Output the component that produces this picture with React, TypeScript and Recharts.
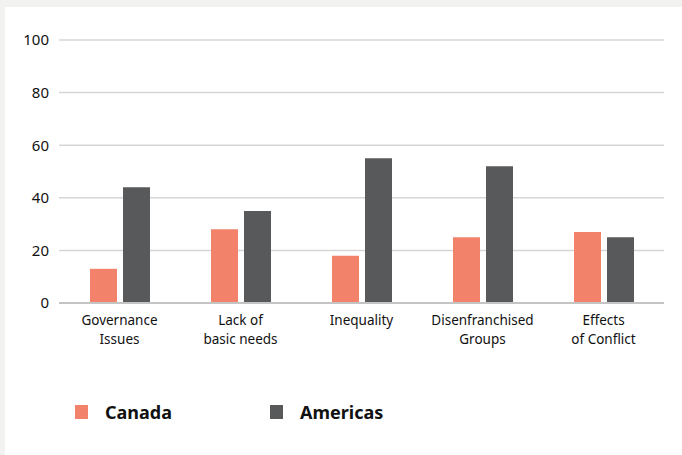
import React from 'react';
import { BarChart, Bar, XAxis, YAxis, CartesianGrid, Legend } from 'recharts';

const categories = ['Governance\nIssues', 'Lack of\nbasic needs', 'Inequality', 'Disenfranchised\nGroups', 'Effects\nof Conflict'];
const canada = [13, 28, 18, 25, 27];
const americas = [44, 35, 55, 52, 25];
const yTicks = [0, 20, 40, 60, 80, 100];
const seriesNames = ['Canada', 'Americas'];
const seriesColors = ['#f3826a', '#58595b'];

const data = categories.map((c, i) => ({ name: c, Canada: canada[i], Americas: americas[i] }));

const FONT = '"Noto Sans", sans-serif';

const XTick = (props: any) => {
  const { x, y, payload } = props;
  const lines = String(payload.value).split('\n');
  return (
    <text x={x} y={y} textAnchor="middle" fontFamily={FONT} fontSize={13.5} fill="#111">
      {lines.map((l: string, i: number) => (
        <tspan key={i} x={x} dy={i === 0 ? 14 : 19}>{l}</tspan>
      ))}
    </text>
  );
};

const LegendContent = () => (
  <div style={{ position: 'relative', height: 30, fontFamily: FONT }}>
    {seriesNames.map((n, i) => (
      <div key={n} style={{ position: 'absolute', left: 70 + i * 195, top: 5, display: 'flex', alignItems: 'center' }}>
        <div style={{ width: 13, height: 14, background: seriesColors[i] }} />
        <span style={{ marginLeft: 17, fontSize: 18, fontWeight: 700, color: '#111' }}>{n}</span>
      </div>
    ))}
  </div>
);

export default function App() {
  return (
    <div style={{ position: 'fixed', left: 0, top: 0, width: 682, height: 455, background: '#f2f2f1' }}>
      <div style={{ position: 'absolute', left: 5, top: 7, width: 677, height: 448, background: '#ffffff' }}>
        <BarChart
          width={677}
          height={448}
          data={data}
          margin={{ top: 33, right: 18, left: 0, bottom: 30 }}
          barGap={6}
          barSize={27}
        >
          <CartesianGrid vertical={false} stroke="#d6d6d6" strokeWidth={1.5} />
          <XAxis
            dataKey="name"
            tick={<XTick />}
            tickLine={false}
            axisLine={{ stroke: '#c4c4c4', strokeWidth: 2 }}
            height={92}
            interval={0}
          />
          <YAxis
            domain={[0, 100]}
            ticks={yTicks}
            width={54}
            axisLine={false}
            tickLine={false}
            tick={{ fontFamily: FONT, fontSize: 15, fill: '#111' }}
            tickMargin={4}
          />
          <Legend verticalAlign="bottom" content={<LegendContent />} wrapperStyle={{ height: 30 }} />
          {seriesNames.map((n, i) => (
            <Bar key={n} dataKey={n} fill={seriesColors[i]} isAnimationActive={false} />
          ))}
        </BarChart>
      </div>
    </div>
  );
}
